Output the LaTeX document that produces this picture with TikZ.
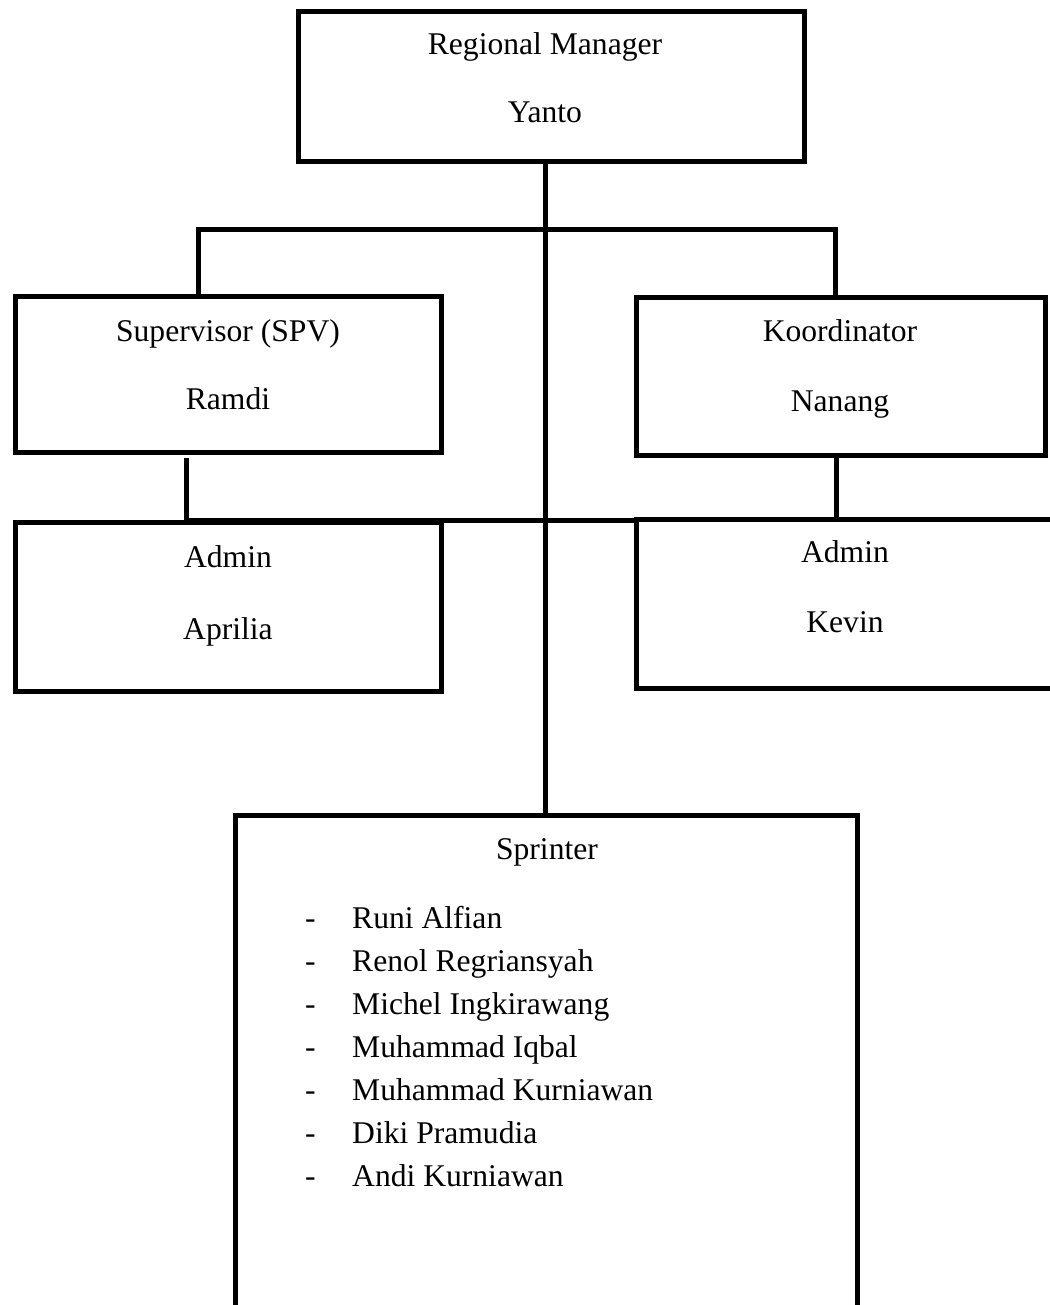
\documentclass[tikz,border=0pt]{standalone}
\usepackage{fontspec}
\setmainfont{Liberation Serif}
\begin{document}
\begin{tikzpicture}[x=1pt,y=-1pt,
  box/.style={draw, line width=5pt, rectangle, inner sep=0pt, outer sep=0pt},
  lbl/.style={inner sep=0pt, anchor=base, font=\fontsize{31.6}{37}\selectfont},
  item/.style={inner sep=0pt, anchor=base west, font=\fontsize{31.6}{37}\selectfont},
  conn/.style={line width=5pt}]
\useasboundingbox (0,0) rectangle (1049,1305);
% boxes
\node[box, minimum width=506pt, minimum height=150pt] (rm) at (551,87) {};
\node[box, minimum width=426pt, minimum height=155pt] (spv) at (228,374.5) {};
\node[box, minimum width=409pt, minimum height=157pt] (koord) at (840.5,376.5) {};
\node[box, minimum width=426pt, minimum height=169pt] (apr) at (228,606.5) {};
\node[box, minimum width=418pt, minimum height=169pt] (kev) at (845,603.5) {};
\node[box, minimum width=622pt, minimum height=505pt] (spr) at (546,1067.5) {};
% texts
\node[lbl] (t1) at (545,55) {Regional Manager};
\node[lbl] (t2) at (545,123) {Yanto};
\node[lbl] (t3) at (228,341) {Supervisor (SPV)};
\node[lbl] (t4) at (228,409) {Ramdi};
\node[lbl] (t5) at (840,341) {Koordinator};
\node[lbl] (t6) at (840,411) {Nanang};
\node[lbl] (t7) at (228,567) {Admin};
\node[lbl] (t8) at (228,639) {Aprilia};
\node[lbl] (t9) at (845,562) {Admin};
\node[lbl] (t10) at (845,632) {Kevin};
\node[lbl] (t11) at (547,859) {Sprinter};
\foreach \n/\name [count=\i] in {928/Runi Alfian, 971/Renol Regriansyah, 1014/Michel Ingkirawang, 1057/Muhammad Iqbal, 1100/Muhammad Kurniawan, 1143/Diki Pramudia, 1186/Andi Kurniawan}{
  \node[item] (d\i) at (305,\n) {-};
  \node[item] (n\i) at (352,\n) {\name};
}
% connectors
\coordinate (tr) at (545,230);
\coordinate (bl) at (198,230);
\coordinate (br) at (835,230);
\coordinate (sd) at (186,458);
\coordinate (ah) at (186,520);
\draw[conn] (rm.south -| tr) -- (spr.north -| tr);
\draw[conn] (spv.north -| bl) -- (bl) -- (br) -- (koord.north -| br);
\draw[conn] (sd) -- (ah) -- (kev.west |- ah);
\draw[conn] (koord.south -| 836,0) -- (kev.north -| 836,0);
\end{tikzpicture}
\end{document}
